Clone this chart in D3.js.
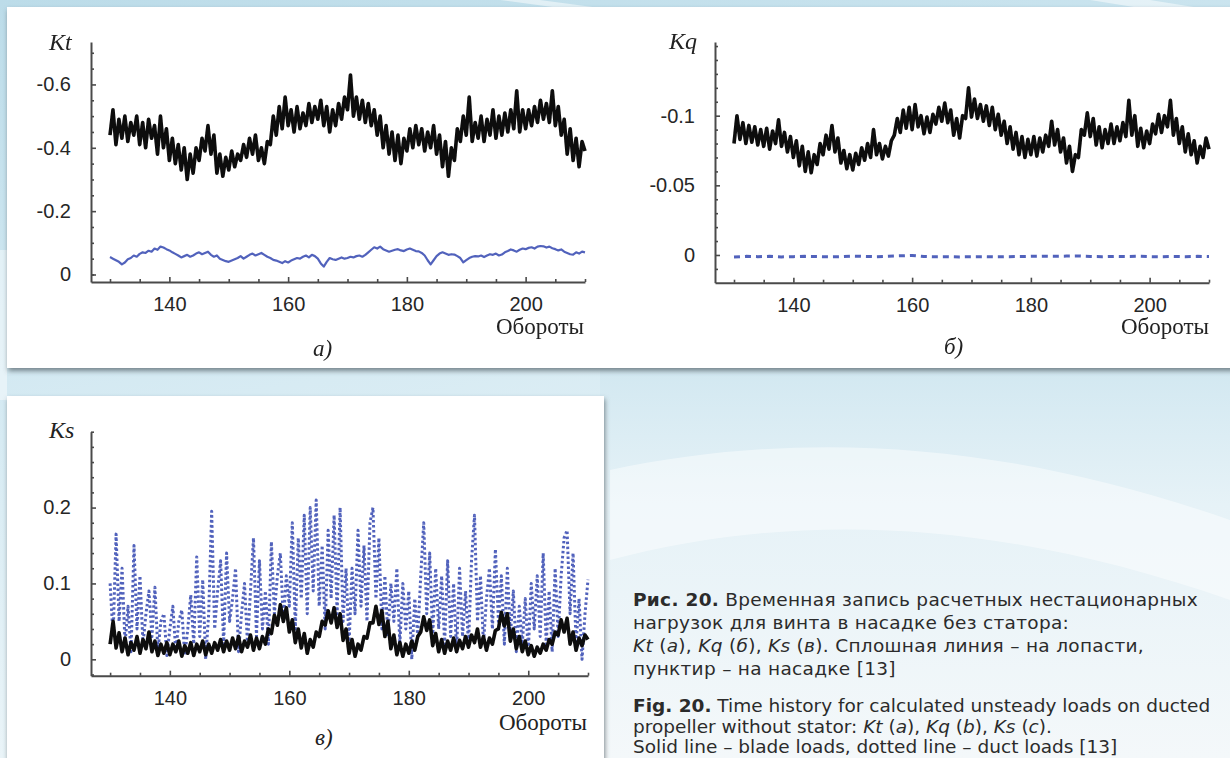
<!DOCTYPE html>
<html><head><meta charset="utf-8">
<script src="https://cdn.jsdelivr.net/npm/d3@7"></script>
<style>
html,body{margin:0;padding:0;background:#d6eaf2;overflow:hidden}
svg{display:block}
</style></head><body>
<svg id="c" width="1230" height="758"></svg>
<script>
// ---------------- DATA ----------------
const revStart = 130, revStep = 0.5;          // sampling grid of the half-revolution series
const dashedStep = 2;                          // sampling grid of the Kq duct series

// Panel а: Kt, blade (solid black)
const ktBlade = [
-0.44,-0.52,-0.41,-0.49,-0.43,-0.50,-0.42,-0.48,-0.44,-0.50,
-0.41,-0.48,-0.40,-0.49,-0.43,-0.47,-0.38,-0.50,-0.40,-0.46,
-0.36,-0.43,-0.35,-0.41,-0.33,-0.40,-0.30,-0.38,-0.32,-0.40,
-0.36,-0.43,-0.39,-0.47,-0.38,-0.44,-0.32,-0.38,-0.31,-0.37,
-0.33,-0.39,-0.34,-0.38,-0.36,-0.41,-0.37,-0.43,-0.38,-0.44,
-0.36,-0.40,-0.35,-0.42,-0.41,-0.50,-0.44,-0.53,-0.46,-0.56,
-0.47,-0.52,-0.45,-0.53,-0.46,-0.51,-0.47,-0.54,-0.48,-0.53,
-0.49,-0.55,-0.47,-0.53,-0.45,-0.52,-0.47,-0.54,-0.49,-0.56,
-0.52,-0.63,-0.50,-0.56,-0.49,-0.55,-0.48,-0.54,-0.47,-0.52,
-0.44,-0.50,-0.40,-0.47,-0.38,-0.45,-0.36,-0.44,-0.35,-0.43,
-0.39,-0.46,-0.40,-0.47,-0.41,-0.46,-0.39,-0.45,-0.40,-0.47,
-0.38,-0.44,-0.34,-0.42,-0.31,-0.40,-0.36,-0.46,-0.42,-0.50,
-0.44,-0.56,-0.42,-0.48,-0.43,-0.50,-0.42,-0.49,-0.44,-0.52,
-0.43,-0.50,-0.44,-0.51,-0.45,-0.52,-0.46,-0.58,-0.45,-0.52,
-0.46,-0.52,-0.47,-0.53,-0.48,-0.55,-0.49,-0.54,-0.48,-0.58,
-0.47,-0.53,-0.44,-0.49,-0.38,-0.46,-0.36,-0.43,-0.34,-0.42,
-0.39];

// Panel а: Kt, duct (blue)
const ktDuct = [
-0.055,-0.050,-0.045,-0.040,-0.032,-0.038,-0.048,-0.052,-0.060,-0.056,
-0.065,-0.070,-0.068,-0.075,-0.072,-0.082,-0.078,-0.088,-0.085,-0.080,
-0.076,-0.070,-0.065,-0.060,-0.054,-0.058,-0.062,-0.056,-0.060,-0.066,
-0.070,-0.064,-0.068,-0.072,-0.062,-0.056,-0.060,-0.050,-0.046,-0.042,
-0.040,-0.044,-0.048,-0.052,-0.058,-0.050,-0.056,-0.062,-0.066,-0.060,
-0.064,-0.068,-0.062,-0.056,-0.052,-0.046,-0.044,-0.040,-0.036,-0.042,
-0.038,-0.044,-0.048,-0.052,-0.050,-0.056,-0.060,-0.054,-0.062,-0.058,
-0.050,-0.035,-0.025,-0.040,-0.052,-0.048,-0.046,-0.050,-0.054,-0.050,
-0.052,-0.056,-0.054,-0.058,-0.060,-0.056,-0.062,-0.070,-0.078,-0.086,
-0.082,-0.088,-0.080,-0.076,-0.072,-0.075,-0.078,-0.080,-0.076,-0.074,
-0.079,-0.082,-0.078,-0.074,-0.073,-0.068,-0.060,-0.045,-0.032,-0.045,
-0.058,-0.066,-0.070,-0.066,-0.062,-0.064,-0.063,-0.058,-0.052,-0.038,
-0.045,-0.052,-0.056,-0.058,-0.057,-0.060,-0.055,-0.060,-0.064,-0.062,
-0.066,-0.060,-0.063,-0.070,-0.074,-0.079,-0.076,-0.072,-0.078,-0.082,
-0.080,-0.084,-0.086,-0.082,-0.088,-0.090,-0.089,-0.085,-0.088,-0.083,
-0.080,-0.076,-0.079,-0.072,-0.068,-0.064,-0.063,-0.070,-0.066,-0.072,
-0.070];

// Panel б: Kq, blade (solid black)
const kqBlade = [
-0.080,-0.100,-0.083,-0.095,-0.080,-0.093,-0.081,-0.092,-0.079,-0.090,
-0.078,-0.091,-0.076,-0.089,-0.080,-0.097,-0.078,-0.088,-0.074,-0.085,
-0.070,-0.082,-0.064,-0.078,-0.060,-0.074,-0.059,-0.072,-0.065,-0.080,
-0.072,-0.086,-0.076,-0.093,-0.074,-0.084,-0.066,-0.075,-0.062,-0.072,
-0.061,-0.073,-0.065,-0.077,-0.068,-0.080,-0.070,-0.090,-0.072,-0.080,
-0.069,-0.078,-0.071,-0.082,-0.086,-0.098,-0.088,-0.104,-0.091,-0.106,
-0.090,-0.108,-0.092,-0.100,-0.087,-0.099,-0.088,-0.101,-0.094,-0.106,
-0.096,-0.109,-0.095,-0.104,-0.086,-0.098,-0.084,-0.100,-0.098,-0.120,
-0.099,-0.112,-0.098,-0.108,-0.096,-0.107,-0.093,-0.106,-0.090,-0.101,
-0.086,-0.096,-0.080,-0.092,-0.076,-0.088,-0.072,-0.085,-0.070,-0.083,
-0.072,-0.085,-0.071,-0.084,-0.074,-0.086,-0.078,-0.096,-0.079,-0.090,
-0.074,-0.084,-0.066,-0.078,-0.060,-0.072,-0.070,-0.090,-0.086,-0.102,
-0.085,-0.098,-0.079,-0.092,-0.077,-0.090,-0.080,-0.094,-0.080,-0.092,
-0.082,-0.095,-0.085,-0.111,-0.086,-0.100,-0.078,-0.091,-0.077,-0.089,
-0.080,-0.094,-0.087,-0.101,-0.088,-0.100,-0.092,-0.111,-0.086,-0.098,
-0.080,-0.092,-0.074,-0.087,-0.072,-0.082,-0.066,-0.078,-0.070,-0.084,
-0.076];

// Panel б: Kq, duct (blue dashed), every 2 revolutions
const kqDuct = [
0.0015,0.0010,0.0012,0.0010,0.0014,0.0012,0.0010,0.0011,0.0013,0.0012,
0.0008,0.0010,0.0012,0.0009,0.0006,0.0003,0.0011,0.0013,0.0012,0.0014,
0.0013,0.0012,0.0014,0.0012,0.0011,0.0010,0.0009,0.0010,0.0008,0.0007,
0.0011,0.0012,0.0010,0.0011,0.0009,0.0012,0.0013,0.0011,0.0012,0.0010,
0.0011];

// Panel в: Ks, blade (solid black)
const ksBlade = [
0.020,0.050,0.015,0.035,0.010,0.028,0.006,0.022,0.012,0.030,
0.008,0.026,0.014,0.036,0.010,0.024,0.005,0.020,0.008,0.022,
0.006,0.020,0.010,0.024,0.004,0.018,0.008,0.022,0.005,0.020,
0.010,0.024,0.006,0.020,0.008,0.022,0.012,0.026,0.010,0.024,
0.012,0.028,0.014,0.030,0.010,0.024,0.016,0.032,0.012,0.028,
0.014,0.030,0.020,0.040,0.034,0.058,0.045,0.072,0.050,0.068,
0.036,0.052,0.022,0.040,0.015,0.034,0.008,0.026,0.016,0.036,
0.030,0.050,0.045,0.064,0.048,0.068,0.042,0.060,0.025,0.040,
0.008,0.026,0.004,0.020,0.012,0.030,0.028,0.048,0.048,0.070,
0.046,0.064,0.030,0.050,0.014,0.032,0.006,0.022,0.004,0.020,
0.008,0.024,0.012,0.030,0.036,0.056,0.038,0.052,0.018,0.034,
0.010,0.026,0.008,0.024,0.012,0.028,0.010,0.025,0.014,0.030,
0.016,0.032,0.022,0.040,0.016,0.030,0.012,0.028,0.020,0.038,
0.040,0.062,0.044,0.060,0.024,0.040,0.014,0.030,0.010,0.024,
0.006,0.018,0.004,0.016,0.008,0.020,0.012,0.026,0.020,0.036,
0.032,0.052,0.036,0.054,0.020,0.036,0.012,0.028,0.018,0.032,
0.026];

// Panel в: Ks, duct (blue dotted)
const ksDuct = [
0.100,0.030,0.165,0.050,0.120,0.020,0.070,0.010,0.150,0.040,
0.110,0.020,0.060,0.090,0.030,0.095,0.010,0.050,0.060,0.005,
0.040,0.070,0.010,0.050,0.065,0.005,0.040,0.085,0.020,0.135,
0.030,0.105,0.000,0.060,0.195,0.040,0.090,0.130,0.020,0.140,
0.050,0.080,0.120,0.010,0.060,0.100,0.020,0.090,0.160,0.030,
0.130,0.040,0.090,0.020,0.155,0.060,0.110,0.140,0.050,0.110,
0.070,0.180,0.040,0.160,0.080,0.190,0.060,0.200,0.090,0.210,
0.070,0.150,0.040,0.170,0.080,0.190,0.060,0.200,0.050,0.120,
0.020,0.120,0.060,0.170,0.070,0.150,0.050,0.180,0.200,0.080,
0.160,0.040,0.110,0.030,0.100,0.050,0.120,0.020,0.100,0.040,
0.090,0.000,0.080,0.030,0.110,0.180,0.060,0.140,0.030,0.120,
0.040,0.110,0.020,0.130,0.030,0.100,0.010,0.120,0.030,0.090,
0.020,0.130,0.190,0.050,0.110,0.020,0.080,0.120,0.040,0.145,
0.050,0.110,0.020,0.120,0.030,0.090,0.010,0.070,0.020,0.080,
0.010,0.100,0.040,0.110,0.030,0.140,0.020,0.090,0.010,0.120,
0.030,0.110,0.160,0.170,0.060,0.140,0.020,0.080,0.000,0.060,
0.105];

// Tick values / labels
const xMajorTicks = [140, 160, 180, 200];
const xMinorTicks = [130, 135, 145, 150, 155, 165, 170, 175, 185, 190, 195, 205, 210];
const ktMajorTicks = [0, -0.2, -0.4, -0.6];
const ktMinorTicks = [0.0, -0.05, -0.1, -0.15, -0.25, -0.3, -0.35, -0.45, -0.5, -0.55, -0.65, -0.7];
const kqMajorTicks = [0, -0.05, -0.1];
const kqMinorTicks = [-0.01,-0.02,-0.03,-0.04,-0.06,-0.07,-0.08,-0.09,-0.11,-0.12,-0.13,-0.14,-0.15, 0.01];
const ksMajorTicks = [0, 0.1, 0.2];
const ksMinorTicks = [-0.02,0.02,0.04,0.06,0.08,0.12,0.14,0.16,0.18,0.22,0.24,0.26,0.28,0.3];
const xTitle = "Обороты";
const panelLetters = ["а)", "б)", "в)"];
const yTitles = ["Kt", "Kq", "Ks"];

// ---------------- DRAW ----------------
const svg = d3.select("#c");
const defs = svg.append("defs");

const bgGrad = defs.append("linearGradient").attr("id","bg").attr("x1",0).attr("y1",0).attr("x2",0.3).attr("y2",1);
bgGrad.append("stop").attr("offset","0").attr("stop-color","#bcdce9");
bgGrad.append("stop").attr("offset","0.45").attr("stop-color","#d3e9f2");
bgGrad.append("stop").attr("offset","1").attr("stop-color","#eef6f9");

const rGrad = defs.append("linearGradient").attr("id","rg").attr("x1",0).attr("y1",0).attr("x2",0).attr("y2",1);
rGrad.append("stop").attr("offset","0").attr("stop-color","#d2e8f1");
rGrad.append("stop").attr("offset","0.35").attr("stop-color","#e6f2f7");
rGrad.append("stop").attr("offset","1").attr("stop-color","#f4f8fa");

const sh = defs.append("filter").attr("id","shadow").attr("x","-5%").attr("y","-5%").attr("width","110%").attr("height","115%");
sh.append("feDropShadow").attr("dx",1).attr("dy",3).attr("stdDeviation",2.5).attr("flood-color","#4d5a60").attr("flood-opacity",0.7);

const soft = defs.append("filter").attr("id","soft");
soft.append("feGaussianBlur").attr("stdDeviation",0.6);

// background
svg.append("rect").attr("width",1230).attr("height",758).attr("fill","url(#bg)");
svg.append("rect").attr("x",600).attr("y",368).attr("width",630).attr("height",390).attr("fill","url(#rg)");
svg.append("path").attr("d","M610,470 C800,430 1000,440 1230,520 L1230,600 C1000,520 800,510 610,560 Z")
  .attr("fill","#ffffff").attr("opacity",0.45);
svg.append("path").attr("d","M500,0 L540,0 L600,8 L560,8 Z").attr("fill","#ffffff").attr("opacity",0.5);
svg.append("path").attr("d","M1090,0 L1150,0 L1200,8 L1140,8 Z").attr("fill","#ffffff").attr("opacity",0.5);
svg.append("rect").attr("x",0).attr("y",250).attr("width",7).attr("height",150).attr("fill","#ffffff").attr("opacity",0.45);

// cards
svg.append("rect").attr("x",7).attr("y",7).attr("width",1240).attr("height",361).attr("fill","#fff").attr("filter","url(#shadow)");
svg.append("rect").attr("x",7).attr("y",396).attr("width",597).attr("height",380).attr("fill","#fff").attr("filter","url(#shadow)");

function drawPanel(o) {
  const x = d3.scaleLinear().domain([126.8, 210]).range([o.x0, o.x1]);
  const y = d3.scaleLinear().domain(o.yDom).range([o.yBottom, o.yTop]);
  const g = svg.append("g");
  const axisColor = "#4a4a4a";

  // data lines
  const dg = g.append("g").attr("filter","url(#soft)");
  o.series.forEach(s => {
    const pts = s.values.map((v,i) => [s.start + i*s.step, v]);
    dg.append("path").datum(pts)
      .attr("fill","none")
      .attr("stroke", s.color)
      .attr("stroke-width", s.width)
      .attr("stroke-linejoin","round")
      .attr("stroke-dasharray", s.dash || null)
      .attr("opacity", s.opacity || 1)
      .attr("d", d3.line().x(d => x(d[0])).y(d => y(d[1])));
  });

  // y axis
  const yAx = g.append("g").attr("transform",`translate(${o.x0},0)`)
    .call(d3.axisLeft(y).tickValues(o.yMajor).tickSize(-5).tickSizeOuter(0).tickPadding(20)
      .tickFormat(d => d === 0 ? "0" : String(d)));
  const yMin = g.append("g").attr("transform",`translate(${o.x0},0)`)
    .call(d3.axisLeft(y).tickValues(o.yMinor).tickSize(-3).tickSizeOuter(0).tickFormat(""));
  yMin.select(".domain").remove();

  const xAx = g.append("g").attr("transform",`translate(0,${o.yBottom})`)
    .call(d3.axisBottom(x).tickValues(xMajorTicks).tickSize(-5).tickSizeOuter(0).tickPadding(22)
      .tickFormat(d3.format("d")));
  const xMin = g.append("g").attr("transform",`translate(0,${o.yBottom})`)
    .call(d3.axisBottom(x).tickValues(xMinorTicks).tickSize(-3).tickSizeOuter(0).tickFormat(""));
  xMin.select(".domain").remove();

  [yAx, yMin, xAx, xMin].forEach(a => {
    a.select(".domain").attr("stroke",axisColor).attr("stroke-width",2);
    a.selectAll(".tick line").attr("stroke",axisColor).attr("stroke-width",1.6);
    a.selectAll(".tick text").attr("fill","#262626")
      .style("font-family","'Liberation Sans', Arial, sans-serif").style("font-size","20px");
  });
  xAx.selectAll(".tick text").attr("dy","0.35em");

  // titles
  g.append("text").attr("x",o.yt[0]).attr("y",o.yt[1]).text(o.yTitle)
    .style("font-family","'Liberation Serif', serif").style("font-style","italic")
    .style("font-size","24px").attr("fill","#222");
  g.append("text").attr("x",o.xt[0]).attr("y",o.xt[1]).attr("text-anchor","end").text(xTitle)
    .style("font-family","'Liberation Serif', serif").style("font-size","23px").attr("fill","#222");
  g.append("text").attr("x",o.pl[0]).attr("y",o.pl[1]).text(o.letter)
    .style("font-family","'Liberation Serif', serif").style("font-style","italic")
    .style("font-size","23px").attr("fill","#222");
}

const black = "#0a0a0a", blue = "#3f51b5";

drawPanel({
  x0: 91, x1: 585, yBottom: 282, yTop: 42, yDom: [0.0237, -0.734],
  yMajor: ktMajorTicks, yMinor: ktMinorTicks, yTitle: yTitles[0], letter: panelLetters[0],
  yt: [49, 50], xt: [584, 334], pl: [313, 356],
  series: [
    {values: ktDuct, start: revStart, step: revStep, color: blue, width: 2.2, opacity: 0.9},
    {values: ktBlade, start: revStart, step: revStep, color: black, width: 3.6}
  ]
});

drawPanel({
  x0: 715, x1: 1209, yBottom: 282.7, yTop: 42, yDom: [0.0199, -0.1529],
  yMajor: kqMajorTicks, yMinor: kqMinorTicks, yTitle: yTitles[1], letter: panelLetters[1],
  yt: [669, 49], xt: [1209, 334], pl: [944, 354],
  series: [
    {values: kqDuct, start: revStart, step: dashedStep, color: blue, width: 3, dash: "6,5", opacity: 0.9},
    {values: kqBlade, start: revStart, step: revStep, color: black, width: 3.6}
  ]
});

drawPanel({
  x0: 91, x1: 588, yBottom: 675.7, yTop: 431.7, yDom: [-0.0216, 0.3],
  yMajor: ksMajorTicks, yMinor: ksMinorTicks, yTitle: yTitles[2], letter: panelLetters[2],
  yt: [49, 438], xt: [587, 730], pl: [315, 745],
  series: [
    {values: ksDuct, start: revStart, step: revStep, color: blue, width: 3, dash: "2.5,2.5", opacity: 0.9},
    {values: ksBlade, start: revStart, step: revStep, color: black, width: 3.6}
  ]
});

// caption
const capLines = [
  {y: 606, ls: 0.3, parts: [["Рис. 20.","b"],[" Временная запись расчетных нестационарных",""]]},
  {y: 629, ls: 0.3, parts: [["нагрузок для винта в насадке без статора:",""]]},
  {y: 652, ls: 0.3, parts: [["Kt","i"],[" (",""],["а","i"],["), ",""],["Kq","i"],[" (",""],["б","i"],["), ",""],["Ks","i"],[" (",""],["в","i"],["). Сплошная линия – на лопасти,",""]]},
  {y: 675, ls: 0.3, parts: [["пунктир – на насадке [13]",""]]},
  {y: 712, ls: 0, parts: [["Fig. 20.","b"],[" Time history for calculated unsteady loads on ducted",""]]},
  {y: 733, ls: 0, parts: [["propeller without stator: ",""],["Kt","i"],[" (",""],["a","i"],["), ",""],["Kq","i"],[" (",""],["b","i"],["), ",""],["Ks","i"],[" (",""],["c","i"],[").",""]]},
  {y: 753, ls: 0, parts: [["Solid line – blade loads, dotted line – duct loads [13]",""]]}
];
const cap = svg.append("g").style("font-family","'DejaVu Sans', Verdana, sans-serif")
  .style("font-size","18.5px").attr("fill","#2b2b2b");
capLines.forEach(l => {
  const t = cap.append("text").attr("x",633).attr("y",l.y).style("white-space","pre")
    .style("letter-spacing", l.ls + "px");
  l.parts.forEach(p => {
    t.append("tspan").text(p[0])
      .style("font-weight", p[1]==="b" ? "bold" : null)
      .style("font-style", p[1]==="i" ? "italic" : null);
  });
});
</script></body></html>
